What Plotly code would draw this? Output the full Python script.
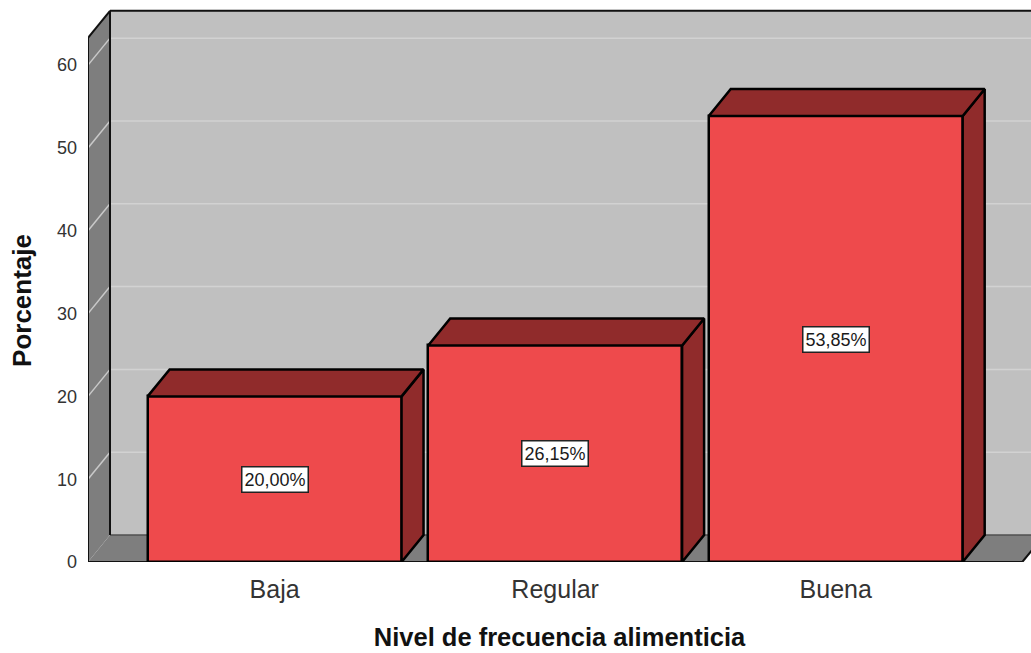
import plotly.graph_objects as go

# Datos
categorias = ["Baja", "Regular", "Buena"]
porcentajes = [20.00, 26.15, 53.85]
marcas_y = [0, 10, 20, 30, 40, 50, 60]

# Geometría del gráfico pseudo-3D (unidades de los ejes)
ANCHO_BARRA = 0.905
PROF_X = 0.0784          # desplazamiento horizontal de la profundidad
PROF_Y = 3.26            # desplazamiento vertical de la profundidad
X_IZQ, X_DER = -0.665, 2.665
Y_MAX = 63.3
RANGO_X = [-0.665, 2.696]
RANGO_Y = [0, 66.9]

ROJO = "#EE4A4C"
ROJO_OSCURO = "#902B2B"
PARED = "#C0C0C0"
PARED_LATERAL = "#7E7E7E"
FUENTE = "Liberation Sans, Arial, sans-serif"

fig = go.Figure()
shapes = []


def poligono(pts, fill, color_linea="black", ancho=0, capa="below"):
    path = "M " + " L ".join(f"{x},{y}" for x, y in pts) + " Z"
    return dict(type="path", path=path, xref="x", yref="y", fillcolor=fill,
                line=dict(color=color_linea, width=ancho), layer=capa)


def linea(x0, y0, x1, y1, color, ancho):
    return dict(type="line", x0=x0, y0=y0, x1=x1, y1=y1, xref="x", yref="y",
                line=dict(color=color, width=ancho), layer="below")


# Pared del fondo
shapes.append(poligono([(X_IZQ + PROF_X, PROF_Y), (X_DER + PROF_X, PROF_Y),
                        (X_DER + PROF_X, Y_MAX + PROF_Y), (X_IZQ + PROF_X, Y_MAX + PROF_Y)],
                       PARED))
# Pared lateral
shapes.append(poligono([(X_IZQ, 0), (X_IZQ, Y_MAX), (X_IZQ + PROF_X, Y_MAX + PROF_Y),
                        (X_IZQ + PROF_X, PROF_Y)], PARED_LATERAL))
# Suelo
shapes.append(poligono([(X_IZQ, 0), (X_DER, 0), (X_DER + PROF_X, PROF_Y),
                        (X_IZQ + PROF_X, PROF_Y)], PARED_LATERAL))

# Líneas de cuadrícula
for v in marcas_y[1:]:
    shapes.append(linea(X_IZQ + PROF_X, v + PROF_Y, X_DER + PROF_X, v + PROF_Y, "#D2D2D2", 1.5))
    shapes.append(linea(X_IZQ, v, X_IZQ + PROF_X, v + PROF_Y, "#C9C9C9", 1.5))

# Bordes de las paredes
shapes.append(linea(X_IZQ + PROF_X, PROF_Y, X_DER + PROF_X, PROF_Y, "#505050", 1.5))
shapes.append(linea(X_IZQ + PROF_X, PROF_Y, X_IZQ + PROF_X, Y_MAX + PROF_Y, "#111", 2))
shapes.append(linea(X_IZQ + PROF_X, Y_MAX + PROF_Y, X_DER + PROF_X, Y_MAX + PROF_Y, "#111", 2))
shapes.append(linea(X_IZQ, 0, X_IZQ, Y_MAX, "#111", 2))
shapes.append(linea(X_IZQ, Y_MAX, X_IZQ + PROF_X, Y_MAX + PROF_Y, "#111", 2))
shapes.append(linea(X_IZQ, 0, X_DER, 0, "#111", 2))
shapes.append(linea(X_DER, 0, X_DER + PROF_X, PROF_Y, "#111", 2))

# Caras superior y lateral de cada barra
for i, v in enumerate(porcentajes):
    xl, xr = i - ANCHO_BARRA / 2, i + ANCHO_BARRA / 2
    lateral_x = [xr, xr, xr + PROF_X, xr + PROF_X, xr]
    lateral_y = [0, v, v + PROF_Y, PROF_Y, 0]
    fig.add_trace(go.Scatter(x=lateral_x, y=lateral_y, mode="lines", fill="toself",
                             fillcolor=ROJO_OSCURO, line=dict(color="black", width=2.5),
                             hoverinfo="skip", showlegend=False))
    sup_x = [xl, xr, xr + PROF_X, xl + PROF_X, xl]
    sup_y = [v, v, v + PROF_Y, v + PROF_Y, v]
    fig.add_trace(go.Scatter(x=sup_x, y=sup_y, mode="lines", fill="toself",
                             fillcolor=ROJO_OSCURO, line=dict(color="black", width=2.5),
                             hoverinfo="skip", showlegend=False))

# Cara frontal de las barras
fig.add_trace(go.Bar(x=list(range(len(categorias))), y=porcentajes, width=ANCHO_BARRA,
                     marker=dict(color=ROJO, line=dict(color="black", width=2.5)),
                     showlegend=False))

# Etiquetas de valor
anotaciones = []
for i, v in enumerate(porcentajes):
    anotaciones.append(dict(x=i, y=v / 2, xref="x", yref="y",
                            text=f"{v:.2f}%".replace(".", ","), showarrow=False,
                            font=dict(family=FUENTE, size=18, color="#1a1a1a"),
                            bgcolor="white", bordercolor="#222", borderwidth=1.5,
                            borderpad=2))

# Título del eje Y
anotaciones.append(dict(text="<b>Porcentaje</b>", textangle=-90, showarrow=False,
                        xref="paper", yref="paper", x=-0.07, y=0.473,
                        xanchor="center", yanchor="middle",
                        font=dict(family=FUENTE, size=26, color="#111")))

fig.update_layout(
    width=1031, height=653,
    margin=dict(l=88, r=0, t=8, b=91),
    paper_bgcolor="white", plot_bgcolor="white",
    shapes=shapes, annotations=anotaciones,
    font=dict(family=FUENTE),
    bargap=0,
    xaxis=dict(range=RANGO_X, tickvals=list(range(len(categorias))), ticktext=categorias,
               showgrid=False, zeroline=False, showline=False, ticks="",
               tickfont=dict(size=25, color="#333"), ticklabelstandoff=10,
               title=dict(text="<b>Nivel de frecuencia alimenticia</b>",
                          font=dict(size=25.5, color="#111"), standoff=26)),
    yaxis=dict(range=RANGO_Y, tickvals=marcas_y, showgrid=False, zeroline=False,
               showline=False, ticks="", tickfont=dict(size=18, color="#333"),
               ticklabelstandoff=10),
)

fig.write_html("out.html")
